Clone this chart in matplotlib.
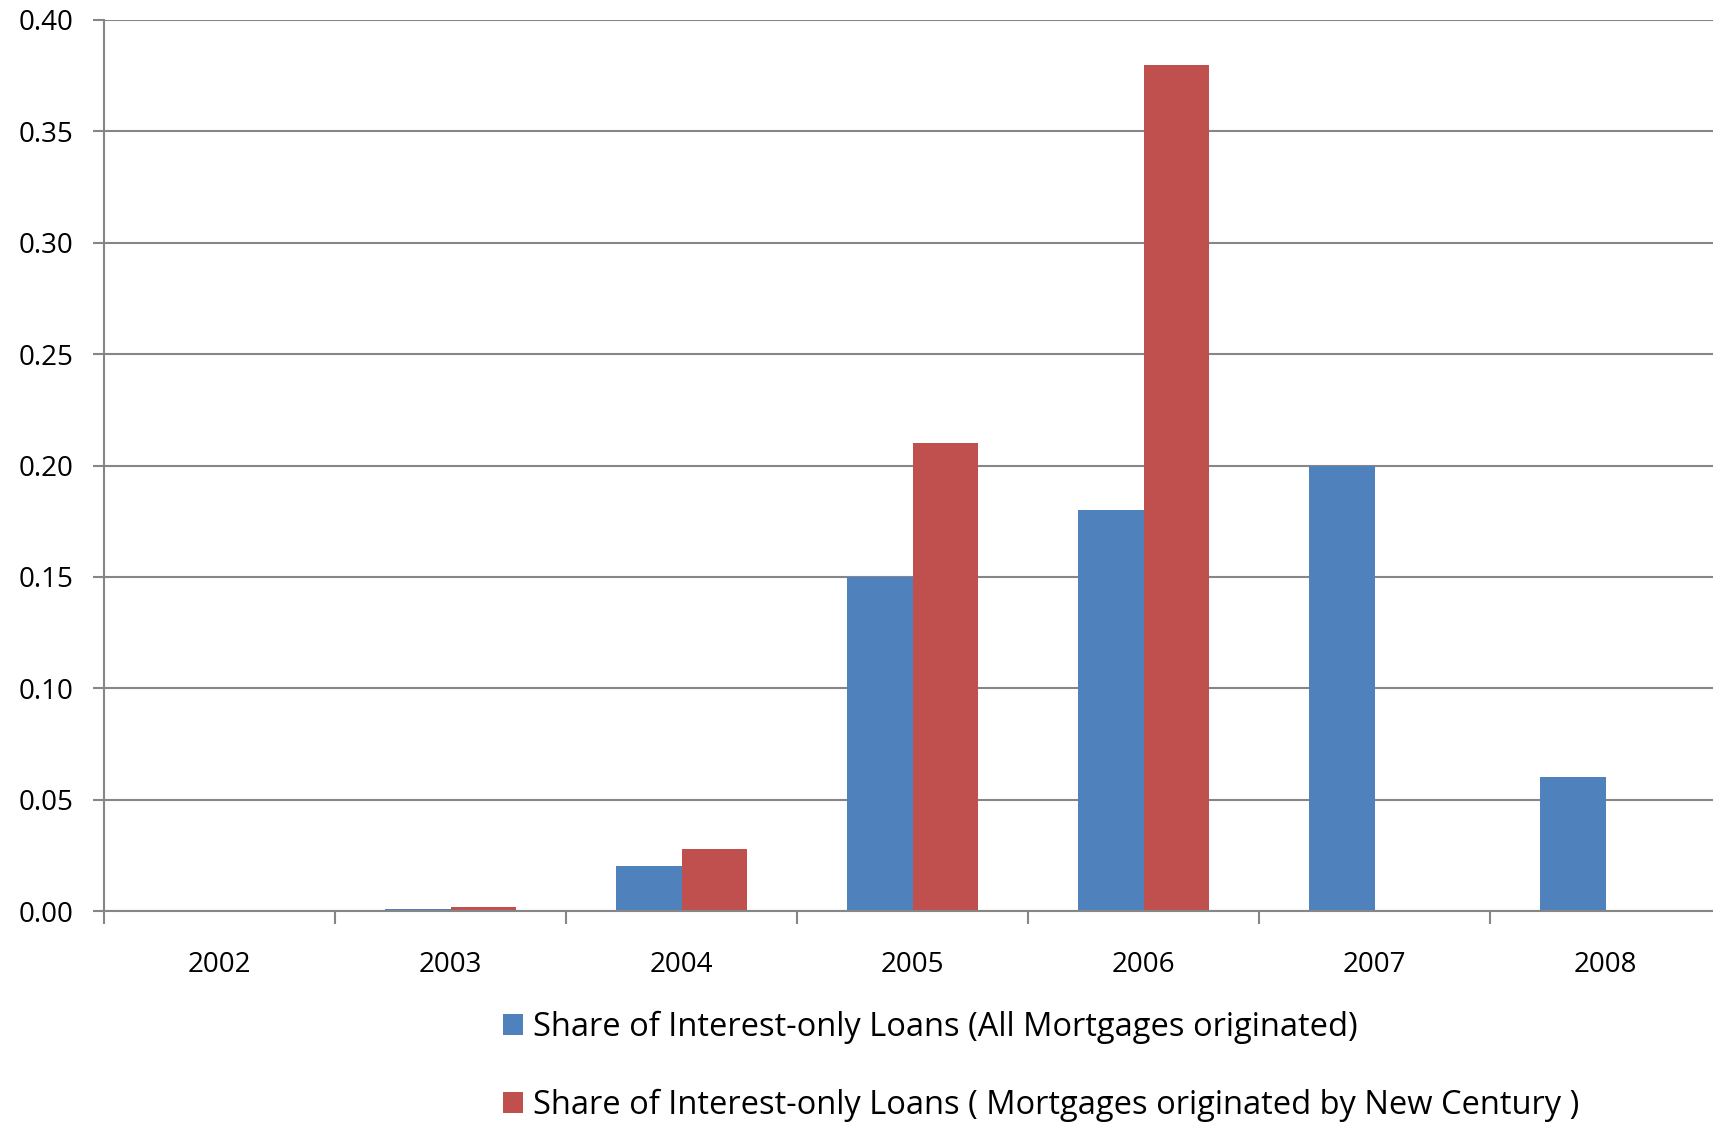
import numpy as np
import matplotlib
matplotlib.use("Agg")
import matplotlib.pyplot as plt

years = ["2002", "2003", "2004", "2005", "2006", "2007", "2008"]
all_mortgages = [0.0, 0.001, 0.02, 0.15, 0.18, 0.20, 0.06]
new_century = [0.0, 0.002, 0.028, 0.21, 0.38, 0.0, 0.0]
yticks = [0.00, 0.05, 0.10, 0.15, 0.20, 0.25, 0.30, 0.35, 0.40]

label_all = "Share of Interest-only Loans (All Mortgages originated)"
label_nc = "Share of Interest-only Loans ( Mortgages originated by New Century )"

plt.rcParams['font.family'] = ['Open Sans', 'DejaVu Sans']

W, H = 1713, 1123
fig = plt.figure(figsize=(W / 100, H / 100), dpi=100)
ax = fig.add_axes([104 / W, 1 - 911 / H, 1 - 104 / W, (911 - 20) / H])

x = np.arange(len(years))
bw = 0.285
ax.bar(x - bw / 2, all_mortgages, bw, color='#4F81BD', label=label_all, zorder=3)
ax.bar(x + bw / 2, new_century, bw, color='#C0504D', label=label_nc, zorder=3)

ax.set_ylim(0, 0.40)
ax.set_yticks(yticks)
ax.set_yticklabels([f"{v:.2f}" for v in yticks])

# category labels between boundary ticks
ax.set_xticks(x)
ax.set_xticklabels(years)
ax.set_xticks(np.arange(len(years) + 1) - 0.5, minor=True)
# set after the ticks, otherwise set_xticks widens the view again
ax.set_xlim(-0.5, -0.5 + (W - 104) / 231.0)
ax.tick_params(axis='x', which='major', length=0, pad=29, labelsize=20)
ax.tick_params(axis='x', which='minor', length=9, width=1.5, color='#868686')
ax.tick_params(axis='y', length=8, width=1.5, color='#868686', labelsize=20, pad=14)

ax.grid(axis='y', color='#868686', linewidth=1.5, zorder=0)
for s in ['top', 'right']:
    ax.spines[s].set_visible(False)
for s in ['left', 'bottom']:
    ax.spines[s].set_color('#868686')
    ax.spines[s].set_linewidth(1.5)
ax.spines['bottom'].set_zorder(4)

fig.legend(loc='upper left', bbox_to_anchor=(490 / W, 1 - 998 / H),
           frameon=False, fontsize=23.5, handlelength=0.62, handleheight=0.62,
           handletextpad=0.3, labelspacing=1.36, borderaxespad=0)

fig.savefig("out.png", dpi=100)
